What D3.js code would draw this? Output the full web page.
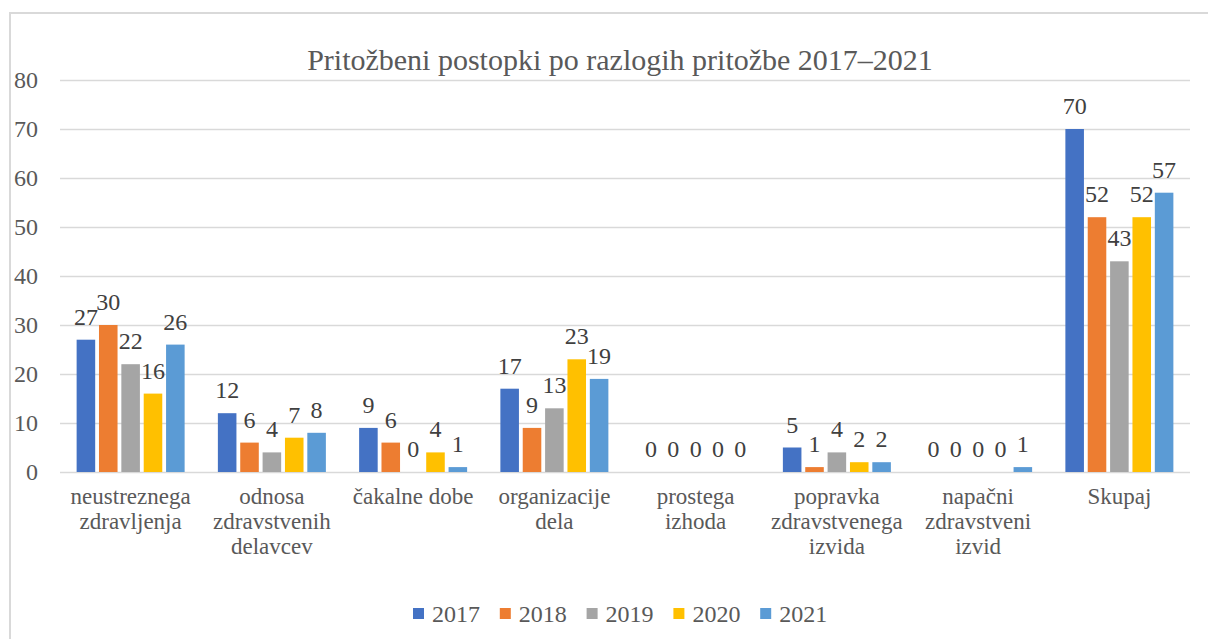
<!DOCTYPE html>
<html>
<head>
  <meta charset="UTF-8">
  <title>Pritožbeni postopki po razlogih pritožbe 2017–2021</title>
  <style>
    body { margin: 0; background: #fff; }
    svg text { font-family: "Liberation Serif", "Times New Roman", "DejaVu Serif", serif; }
  </style>
</head>
<body>
  <svg width="1208" height="639" id="chart"></svg>
  <script src="https://d3js.org/d3.v7.min.js"></script>
  <script>
    // data
    var categories = [
      ["neustreznega", "zdravljenja"],
      ["odnosa", "zdravstvenih", "delavcev"],
      ["čakalne dobe"],
      ["organizacije", "dela"],
      ["prostega", "izhoda"],
      ["popravka", "zdravstvenega", "izvida"],
      ["napačni", "zdravstveni", "izvid"],
      ["Skupaj"]
    ];
    var years = ["2017", "2018", "2019", "2020", "2021"];
    var v2017 = [27, 12, 9, 17, 0, 5, 0, 70];
    var v2018 = [30, 6, 6, 9, 0, 1, 0, 52];
    var v2019 = [22, 4, 0, 13, 0, 4, 0, 43];
    var v2020 = [16, 7, 4, 23, 0, 2, 0, 52];
    var v2021 = [26, 8, 1, 19, 0, 2, 1, 57];
    var yTicks = [0, 10, 20, 30, 40, 50, 60, 70, 80];
    var colors = ["#4472C4", "#ED7D31", "#A5A5A5", "#FFC000", "#5B9BD5"];

    var series = [v2017, v2018, v2019, v2020, v2021];
    var catIds = categories.map(function (c, i) { return i; });

    var svg = d3.select("#chart");
    var plot = { left: 60, right: 1190, top: 80, bottom: 472 };

    // frame
    svg.append("rect")
      .attr("x", 10).attr("y", 13)
      .attr("width", 1220).attr("height", 660)
      .attr("fill", "none")
      .attr("stroke", "#d9d9d9")
      .attr("stroke-width", 2);

    svg.append("text")
      .attr("x", 620).attr("y", 70)
      .attr("text-anchor", "middle")
      .attr("font-size", 30)
      .attr("fill", "#595959")
      .text("Pritožbeni postopki po razlogih pritožbe 2017–2021");

    var y = d3.scaleLinear().domain([0, 80]).range([plot.bottom, plot.top]);
    var x0 = d3.scaleBand().domain(catIds).range([plot.left, plot.right]);
    var groupW = 108;
    var off = (x0.bandwidth() - groupW) / 2;
    var x1 = d3.scaleBand().domain(years).range([off, off + groupW]).paddingInner(0.17);

    // grid + y labels
    var yAxis = svg.append("g")
      .attr("transform", "translate(" + plot.left + ",0)")
      .call(d3.axisLeft(y).tickValues(yTicks).tickSize(-(plot.right - plot.left)).tickPadding(22));
    yAxis.select(".domain").remove();
    yAxis.selectAll(".tick line").attr("stroke", "#d9d9d9").attr("stroke-width", 1.5);
    yAxis.selectAll(".tick text")
      .attr("font-size", 24)
      .attr("fill", "#595959")
      .attr("font-family", null);

    // bars
    var groups = svg.selectAll(".grp")
      .data(series)
      .enter().append("g")
      .attr("class", "grp");

    groups.each(function (vals, si) {
      var g = d3.select(this);
      g.selectAll("rect")
        .data(vals)
        .enter().append("rect")
        .attr("x", function (d, i) { return x0(i) + x1(years[si]); })
        .attr("y", function (d) { return y(d); })
        .attr("width", x1.bandwidth())
        .attr("height", function (d) { return plot.bottom - y(d); })
        .attr("fill", colors[si]);
      g.selectAll("text")
        .data(vals)
        .enter().append("text")
        .attr("x", function (d, i) { return x0(i) + x1(years[si]) + x1.bandwidth() / 2; })
        .attr("y", function (d) { return y(d) - 15; })
        .attr("text-anchor", "middle")
        .attr("font-size", 24)
        .attr("fill", "#404040")
        .text(function (d) { return d; });
    });

    // category labels
    var cl = svg.selectAll(".cat")
      .data(categories)
      .enter().append("text")
      .attr("class", "cat")
      .attr("text-anchor", "middle")
      .attr("font-size", 23)
      .attr("fill", "#595959");
    cl.selectAll("tspan")
      .data(function (d, i) { return d.map(function (s) { return { s: s, i: i }; }); })
      .enter().append("tspan")
      .attr("x", function (d) { return x0(d.i) + x0.bandwidth() / 2; })
      .attr("y", function (d, j) { return 504 + j * 25; })
      .text(function (d) { return d.s; });

    // legend
    var lg = svg.selectAll(".lg")
      .data(years)
      .enter().append("g")
      .attr("class", "lg")
      .attr("transform", function (d, i) { return "translate(" + (413 + i * 86.8) + ",0)"; });
    lg.append("rect")
      .attr("x", 0).attr("y", 608)
      .attr("width", 11).attr("height", 11)
      .attr("fill", function (d, i) { return colors[i]; });
    lg.append("text")
      .attr("x", 19).attr("y", 622)
      .attr("font-size", 24)
      .attr("fill", "#595959")
      .text(function (d) { return d; });
  </script>
</body>
</html>
